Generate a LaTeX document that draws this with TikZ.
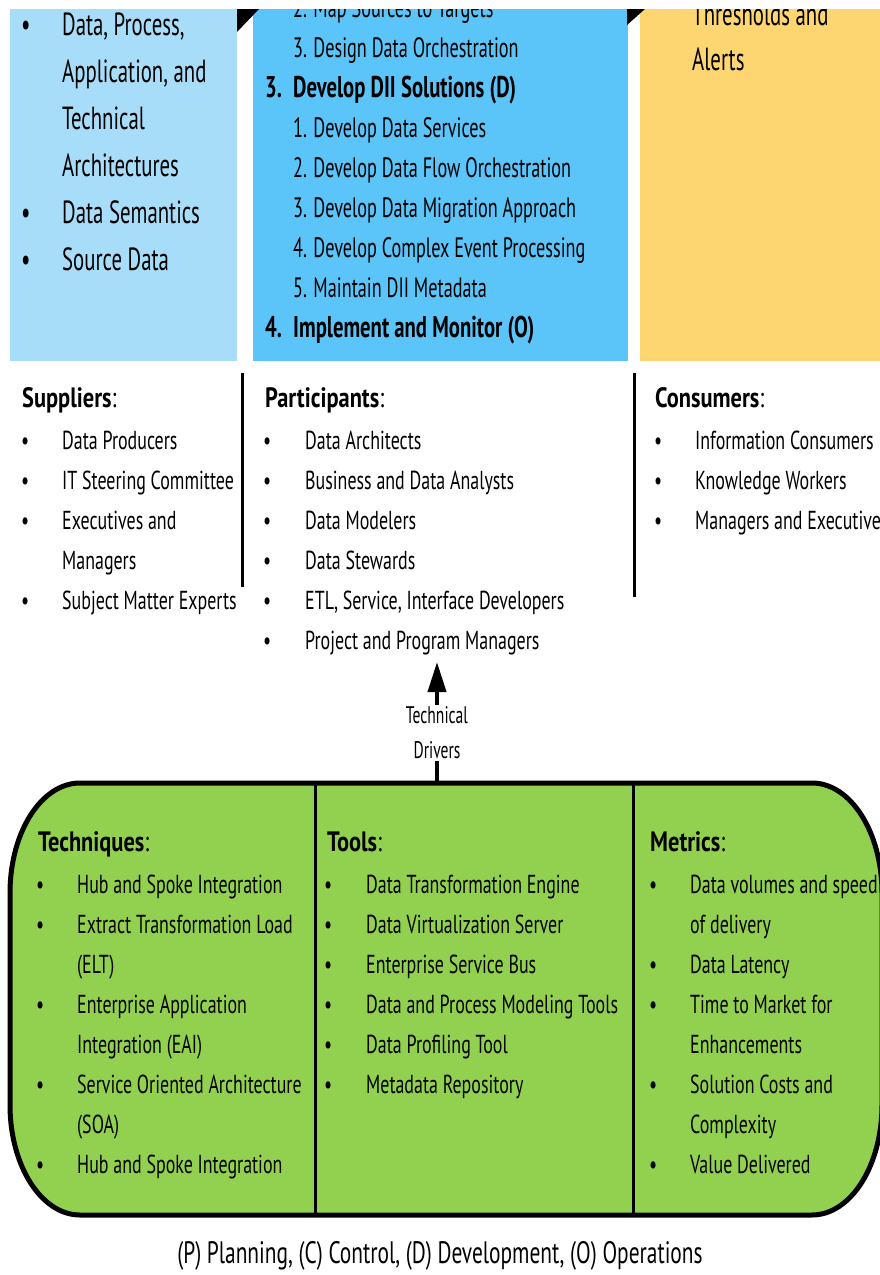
\documentclass[tikz,border=0pt]{standalone}
\usepackage{fontspec}
\setmainfont{PT Sans}[FakeStretch=0.69]
\newfontfamily\narrowfont{PT Sans}[FakeStretch=0.65]
\newfontfamily\headfont{PT Sans}[FakeStretch=0.8]
\usetikzlibrary{arrows.meta, positioning}

\definecolor{paleblue}{HTML}{A7DDF9}
\definecolor{midblue}{HTML}{5BC4F9}
\definecolor{softyellow}{HTML}{FDD671}
\definecolor{leafgreen}{HTML}{92D050}

\begin{document}
\begin{tikzpicture}[x=1pt, y=-1pt,
    itm/.style={anchor=base west, inner sep=0pt, font=\fontsize{26}{30}\selectfont},
    hdr/.style={itm, font=\headfont\fontsize{28}{32}\selectfont},
    bigitm/.style={itm, font=\narrowfont\fontsize{32}{38}\selectfont},
    blueitm/.style={itm, font=\narrowfont\fontsize{28}{34}\selectfont},
    bluestep/.style={itm, font=\fontsize{30}{36}\selectfont\bfseries},
    drvlbl/.style={align=center, fill=white, inner sep=2pt, font=\narrowfont\fontsize{24}{35}\selectfont},
    foot/.style={anchor=base, inner sep=0pt, font=\fontsize{31}{36}\selectfont},
    sep/.style={line width=3pt},
    drvarrow/.style={line width=4pt, -{Triangle[width=18pt, length=30pt]}}]
  \useasboundingbox (0,0) rectangle (880,1275);

  % top boxes, cut off at the top edge
  \begin{scope}
    \clip (0,9) rectangle (880,1275);
    \fill[paleblue] (10,9) rectangle (237,361);
    \fill[midblue] (253,9) rectangle (628,361);
    \fill[softyellow] (640,9) rectangle (880,361);
    \fill (237,9) -- (259,9) -- (237,32) -- cycle;
    \fill (627,9) -- (645,9) -- (627,25) -- cycle;
    \foreach \mk/\txt [count=\i] in {1/{Data, Process,}, 0/{Application, and}, 0/Technical, 0/Architectures, 1/Data Semantics, 1/Source Data}{
      \node[bigitm] (inp\i) at (62,47*\i-12) {\txt};
      \ifnum\mk=1 \node[bigitm] (inpb\i) at (21,47*\i-12) {•};\fi
    }
    \foreach \txt [count=\i] in {2. Map Sources to Targets, 3. Design Data Orchestration}
      \node[blueitm] (act\i) at (293,40*\i-23) {\txt};
    \node[bluestep] (devn) at (265,97) {3.};
    \node[bluestep] (dev) at (293,97) {Develop DII Solutions (D)};
    \foreach \txt [count=\i] in {1. Develop Data Services, 2. Develop Data Flow Orchestration, 3. Develop Data Migration Approach, 4. Develop Complex Event Processing, 5. Maintain DII Metadata}
      \node[blueitm] (devs\i) at (293,97+40*\i) {\txt};
    \node[bluestep] (impn) at (265,337) {4.};
    \node[bluestep] (imp) at (293,337) {Implement and Monitor (O)};
    \node[bigitm] (outa) at (692,25) {Thresholds and};
    \node[bigitm] (outb) at (692,70) {Alerts};
  \end{scope}

  % suppliers, participants, consumers
  \node[hdr] (supt) at (22,407) {\textbf{Suppliers}:};
  \foreach \mk/\txt [count=\i] in {1/Data Producers, 1/IT Steering Committee, 1/Executives and, 0/Managers, 1/Subject Matter Experts}{
    \node[itm] (sup\i) at (62,409+40*\i) {\txt};
    \ifnum\mk=1 \node[itm] (supb\i) at (21,409+40*\i) {•};\fi
  }
  \draw[sep] (242,373) -- (242,587);
  \node[hdr] (part) at (265,407) {\textbf{Participants}:};
  \foreach \txt [count=\i] in {Data Architects, Business and Data Analysts, Data Modelers, Data Stewards, {ETL, Service, Interface Developers}, Project and Program Managers}{
    \node[itm] (par\i) at (305,409+40*\i) {\txt};
    \node[itm] (parb\i) at (263,409+40*\i) {•};
  }
  \draw[sep] (634,373) -- (634,597);
  \node[hdr] (cont) at (655,407) {\textbf{Consumers}:};
  \foreach \txt [count=\i] in {Information Consumers, Knowledge Workers, Managers and Executives}{
    \node[itm] (con\i) at (695,409+40*\i) {\txt};
    \node[itm] (conb\i) at (654,409+40*\i) {•};
  }

  % technical drivers
  \coordinate (drvtip) at (437,662);
  \coordinate (drvbase) at (437,783);
  \node[drvlbl] (drv) at (437,733) {Technical\\Drivers};
  \draw[line width=4pt] (drvbase) -- (drv.south);
  \draw[drvarrow] (drv.north) -- (drvtip);

  % green panel
  \draw[line width=5pt, fill=leafgreen] (80,783) -- (812,783)
    arc[start angle=-90, end angle=0, x radius=70, y radius=110] -- (882,1105)
    arc[start angle=0, end angle=90, x radius=70, y radius=110] -- (80,1215)
    arc[start angle=90, end angle=180, x radius=70, y radius=110] -- (10,893)
    arc[start angle=180, end angle=270, x radius=70, y radius=110] -- cycle;
  \draw[sep] (315,783) -- (315,1215);
  \draw[sep] (633,783) -- (633,1215);

  \node[hdr] (tech) at (38,851) {\textbf{Techniques}:};
  \foreach \mk/\txt [count=\i] in {1/Hub and Spoke Integration, 1/Extract Transformation Load, 0/(ELT), 1/Enterprise Application, 0/Integration (EAI), 1/Service Oriented Architecture, 0/(SOA), 1/Hub and Spoke Integration}{
    \node[itm] (tec\i) at (77,853+40*\i) {\txt};
    \ifnum\mk=1 \node[itm] (tecb\i) at (36,853+40*\i) {•};\fi
  }
  \node[hdr] (tool) at (327,851) {\textbf{Tools}:};
  \foreach \txt [count=\i] in {Data Transformation Engine, Data Virtualization Server, Enterprise Service Bus, Data and Process Modeling Tools, Data Profiling Tool, Metadata Repository}{
    \node[itm] (too\i) at (366,853+40*\i) {\txt};
    \node[itm] (toob\i) at (324,853+40*\i) {•};
  }
  \node[hdr] (metr) at (650,851) {\textbf{Metrics}:};
  \foreach \mk/\txt [count=\i] in {1/Data volumes and speed, 0/of delivery, 1/Data Latency, 1/Time to Market for, 0/Enhancements, 1/Solution Costs and, 0/Complexity, 1/Value Delivered}{
    \node[itm] (met\i) at (690,853+40*\i) {\txt};
    \ifnum\mk=1 \node[itm] (metb\i) at (649,853+40*\i) {•};\fi
  }

  \node[foot] (legend) at (440,1263) {(P) Planning, (C) Control, (D) Development, (O) Operations};
\end{tikzpicture}
\end{document}
